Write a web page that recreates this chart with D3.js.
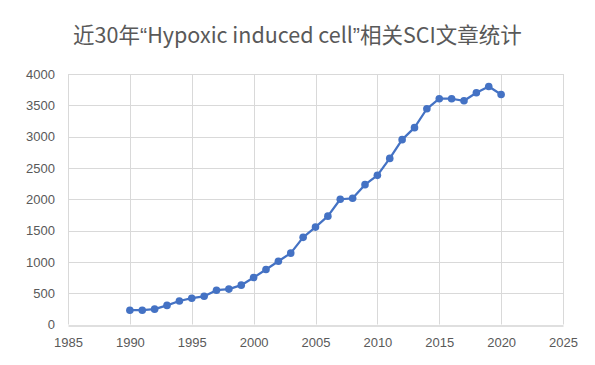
<!DOCTYPE html>
<html><head><meta charset="utf-8">
<script src="https://cdn.jsdelivr.net/npm/d3@7"></script>
<style>body{margin:0;background:#fff;}svg{display:block;}</style>
</head><body>
<svg id="chart" width="595" height="365"></svg>
<script>
const titleParts = ["近30年", "“", "Hypoxic induced cell", "”", "相关SCI文章统计"];
const years = [1990,1991,1992,1993,1994,1995,1996,1997,1998,1999,2000,2001,2002,2003,2004,2005,2006,2007,2008,2009,2010,2011,2012,2013,2014,2015,2016,2017,2018,2019,2020];
const counts = [228,228,245,305,375,420,450,548,565,628,750,878,1010,1140,1392,1555,1730,2000,2015,2233,2382,2652,2952,3143,3445,3605,3605,3572,3700,3800,3672];
const xTicks = [1985,1990,1995,2000,2005,2010,2015,2020,2025];
const yTicks = [0,500,1000,1500,2000,2500,3000,3500,4000];

const svg = d3.select("#chart");
const m = {left:68, right:563, top:74, bottom:324.5};
const x = d3.scaleLinear().domain([1985,2025]).range([m.left,m.right]);
const y = d3.scaleLinear().domain([0,4000]).range([m.bottom,m.top]);
const font = "'Liberation Sans', Arial, sans-serif";

const t = svg.append("text").attr("x",297.5).attr("y",43).attr("text-anchor","middle")
  .attr("font-family","'Noto Sans CJK SC', sans-serif").attr("font-size",21.5).attr("fill","#595959");
t.selectAll("tspan").data(titleParts).join("tspan")
  .attr("font-family",(d,i)=> (i===1||i===3) ? "'Liberation Sans', sans-serif" : "'Noto Sans CJK SC', sans-serif")
  .text(d=>d);

// gridlines
svg.append("g").selectAll("line").data(yTicks.filter(d=>d>0)).join("line")
  .attr("x1",m.left).attr("x2",m.right).attr("y1",d=>Math.round(y(d))+0.5).attr("y2",d=>Math.round(y(d))+0.5)
  .attr("stroke","#d9d9d9").attr("stroke-width",1);
svg.append("g").selectAll("line").data(xTicks).join("line")
  .attr("y1",m.top).attr("y2",m.bottom).attr("x1",d=>Math.round(x(d))+0.5).attr("x2",d=>Math.round(x(d))+0.5)
  .attr("stroke","#d9d9d9").attr("stroke-width",1);

// x axis
const xAxis = svg.append("g").attr("transform",`translate(0,${Math.round(m.bottom)+0.5})`)
  .call(d3.axisBottom(x).tickValues(xTicks).tickFormat(d3.format("d")).tickSize(0).tickPadding(12));
xAxis.select(".domain").attr("stroke","#bfbfbf");
xAxis.selectAll("text").attr("font-family",font).attr("font-size",13).attr("fill","#595959");

const yAxis = svg.append("g").attr("transform",`translate(${m.left},0)`)
  .call(d3.axisLeft(y).tickValues(yTicks).tickFormat(d3.format("d")).tickSize(0).tickPadding(13));
yAxis.select(".domain").remove();
yAxis.selectAll("text").attr("font-family",font).attr("font-size",13).attr("fill","#595959");

const data = years.map((d,i)=>({year:d,v:counts[i]}));
svg.append("path").datum(data)
  .attr("d",d3.line().x(d=>x(d.year)).y(d=>y(d.v)))
  .attr("fill","none").attr("stroke","#4472C4").attr("stroke-width",2.25).attr("stroke-linejoin","round");
svg.append("g").selectAll("circle").data(data).join("circle")
  .attr("cx",d=>x(d.year)).attr("cy",d=>y(d.v)).attr("r",3.8).attr("fill","#4472C4");
</script>
</body></html>
